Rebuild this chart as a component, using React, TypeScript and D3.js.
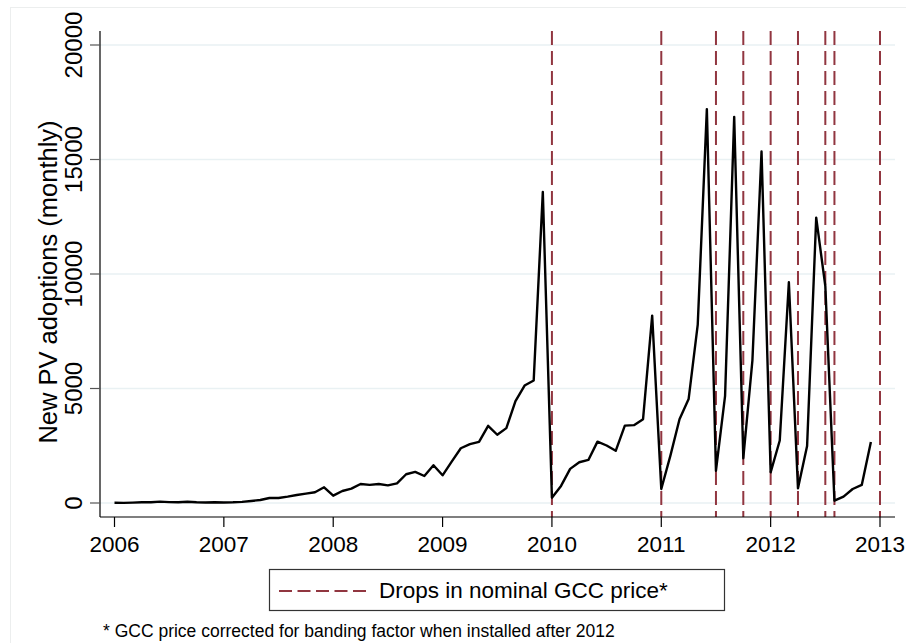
import React, { useRef, useEffect } from "react";
import * as d3 from "d3";

// monthly new PV adoptions, Jan 2006 .. Dec 2012
const startYear = 2006;
const adoptions: number[] = [
  // 2006
  10, 5, 15, 30, 35, 60, 40, 35, 55, 30, 25, 30,
  // 2007
  25, 30, 50, 90, 130, 220, 220, 280, 350, 410, 470, 685,
  // 2008
  320, 525, 630, 830, 790, 830, 770, 860, 1255, 1360, 1180, 1650,
  // 2009
  1210, 1810, 2390, 2570, 2670, 3370, 2980, 3270, 4450, 5130, 5350, 13580,
  // 2010
  230, 745, 1490, 1780, 1880, 2680, 2510, 2280, 3380, 3400, 3660, 8180,
  // 2011
  610, 2070, 3660, 4540, 7790, 17200, 1410, 4680, 16860, 1955, 6230, 15350,
  // 2012
  1340, 2730, 9640, 640, 2490, 12460, 9470, 100, 280, 610, 790, 2660,
];

// months with a drop in nominal GCC price
const priceDrops: string[] = [
  "2010-01", "2011-01", "2011-07", "2011-10", "2012-01",
  "2012-04", "2012-07", "2012-08", "2013-01",
];

const xTicks: number[] = [2006, 2007, 2008, 2009, 2010, 2011, 2012, 2013];
const yTicks: number[] = [0, 5000, 10000, 15000, 20000];

const yTitle = "New PV adoptions (monthly)";
const legendLabel = "Drops in nominal GCC price*";
const footnote = "* GCC price corrected for banding factor when installed after 2012";

const toYear = (s: string) => {
  const [y, m] = s.split("-").map(Number);
  return y + (m - 1) / 12;
};

export default function App() {
  const svgRef = useRef<SVGSVGElement | null>(null);

  useEffect(() => {
    const W = 906;
    const H = 643;
    const font = "'Liberation Sans', Arial, sans-serif";
    const dropColor = "#913640";

    const svg = d3.select(svgRef.current);
    svg.selectAll("*").remove();
    svg.attr("width", W).attr("height", H);

    svg.append("rect").attr("width", W).attr("height", H).attr("fill", "#fff");
    // faint outer frame
    svg
      .append("rect")
      .attr("x", 10.5)
      .attr("y", 7.5)
      .attr("width", W)
      .attr("height", H)
      .attr("fill", "none")
      .attr("stroke", "#eceeee")
      .attr("stroke-width", 1);

    const axisLeft = 100;
    const axisRight = 895;
    const axisTop = 31;
    const axisBottom = 517;

    const x = d3.scaleLinear().domain([2006, 2013]).range([114.5, 880]);
    const y = d3.scaleLinear().domain([0, 20000]).range([503, 45]);

    // grid lines
    svg
      .append("g")
      .selectAll("line")
      .data(yTicks)
      .join("line")
      .attr("x1", axisLeft)
      .attr("x2", axisRight)
      .attr("y1", (d) => y(d))
      .attr("y2", (d) => y(d))
      .attr("stroke", "#e9f1f3")
      .attr("stroke-width", 1.6);

    // price drop lines
    svg
      .append("g")
      .selectAll("line")
      .data(priceDrops)
      .join("line")
      .attr("x1", (d) => x(toYear(d)))
      .attr("x2", (d) => x(toYear(d)))
      .attr("y1", axisTop)
      .attr("y2", axisBottom)
      .attr("stroke", dropColor)
      .attr("stroke-width", 2)
      .attr("stroke-dasharray", "14,6");

    // adoptions line
    const line = d3
      .line<number>()
      .x((_, i) => x(startYear + i / 12))
      .y((d) => y(d));

    svg
      .append("path")
      .datum(adoptions)
      .attr("fill", "none")
      .attr("stroke", "#000")
      .attr("stroke-width", 2.4)
      .attr("stroke-linejoin", "round")
      .attr("d", line);

    // axes
    svg
      .append("line")
      .attr("x1", axisLeft)
      .attr("x2", axisLeft)
      .attr("y1", axisTop)
      .attr("y2", axisBottom)
      .attr("stroke", "#000")
      .attr("stroke-width", 1.2);
    svg
      .append("line")
      .attr("x1", axisLeft)
      .attr("x2", axisRight)
      .attr("y1", axisBottom)
      .attr("y2", axisBottom)
      .attr("stroke", "#000")
      .attr("stroke-width", 1.2);

    // y ticks + labels
    const yg = svg.append("g");
    yg.selectAll("line")
      .data(yTicks)
      .join("line")
      .attr("x1", 90)
      .attr("x2", axisLeft)
      .attr("y1", (d) => y(d))
      .attr("y2", (d) => y(d))
      .attr("stroke", "#555")
      .attr("stroke-width", 1.2);
    yg.selectAll("text")
      .data(yTicks)
      .join("text")
      .attr("transform", (d) => `translate(82,${y(d)}) rotate(-90)`)
      .attr("text-anchor", "middle")
      .style("font-family", font)
      .style("font-size", "24px")
      .attr("fill", "#000")
      .text((d) => String(d));

    // x ticks + labels
    const xg = svg.append("g");
    xg.selectAll("line")
      .data(xTicks)
      .join("line")
      .attr("x1", (d) => x(d))
      .attr("x2", (d) => x(d))
      .attr("y1", axisBottom)
      .attr("y2", 527)
      .attr("stroke", "#000")
      .attr("stroke-width", 1.2);
    xg.selectAll("text")
      .data(xTicks)
      .join("text")
      .attr("x", (d) => x(d))
      .attr("y", 552)
      .attr("text-anchor", "middle")
      .style("font-family", font)
      .style("font-size", "22.5px")
      .attr("fill", "#000")
      .text((d) => String(d));

    // y title
    svg
      .append("text")
      .attr("transform", "translate(57,282) rotate(-90)")
      .attr("text-anchor", "middle")
      .style("font-family", font)
      .style("font-size", "25.5px")
      .attr("fill", "#000")
      .text(yTitle);

    // legend
    const lg = svg.append("g");
    lg.append("rect")
      .attr("x", 269.5)
      .attr("y", 569.5)
      .attr("width", 455)
      .attr("height", 41)
      .attr("fill", "#fff")
      .attr("stroke", "#333")
      .attr("stroke-width", 1.2);
    lg.append("line")
      .attr("x1", 279)
      .attr("x2", 366)
      .attr("y1", 591)
      .attr("y2", 591)
      .attr("stroke", dropColor)
      .attr("stroke-width", 2)
      .attr("stroke-dasharray", "13,5.5");
    lg.append("text")
      .attr("x", 379)
      .attr("y", 598)
      .style("font-family", font)
      .style("font-size", "22.5px")
      .attr("fill", "#000")
      .text(legendLabel);

    // footnote
    svg
      .append("text")
      .attr("x", 103)
      .attr("y", 637)
      .style("font-family", font)
      .style("font-size", "17.5px")
      .attr("fill", "#000")
      .text(footnote);
  }, []);

  return (
    <svg
      ref={svgRef}
      style={{ position: "absolute", left: 0, top: 0, display: "block" }}
    />
  );
}
